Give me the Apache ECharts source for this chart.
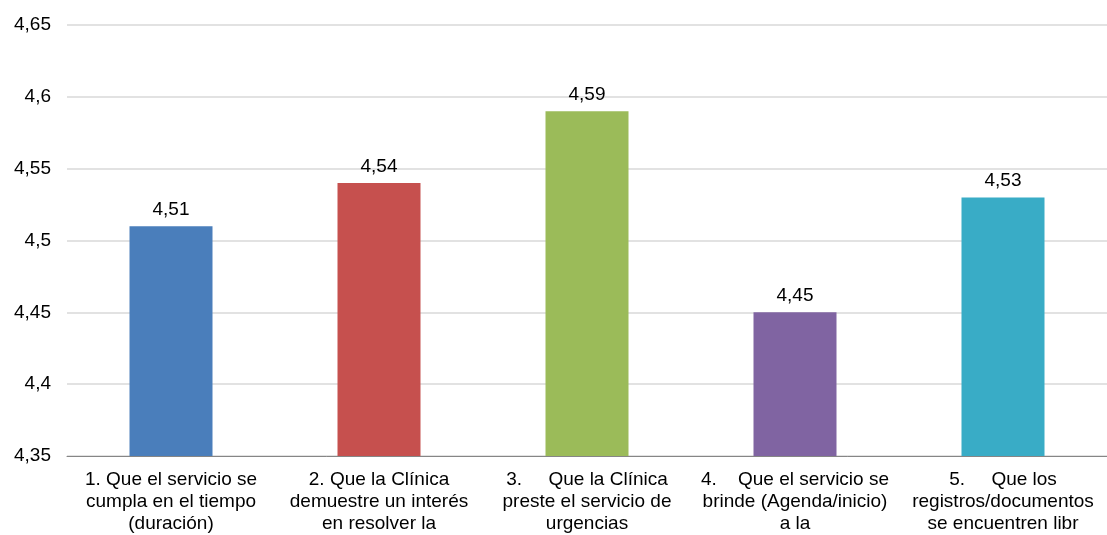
<!DOCTYPE html>
<html>
<head>
<meta charset="utf-8">
<script src="https://cdn.jsdelivr.net/npm/echarts@6/dist/echarts.min.js"></script>
<style>
  html, body { margin: 0; padding: 0; background: #ffffff; }
  #chart { width: 1107px; height: 535px; }
</style>
</head>
<body>
<div id="chart"></div>
<script>
// Survey items (wrapped as they appear under the axis)
const categories = [
  '1. Que el servicio se\ncumpla en el tiempo\n(duración)',
  '2. Que la Clínica\ndemuestre un interés\nen resolver la',
  '3.     Que la Clínica\npreste el servicio de\nurgencias',
  '4.    Que el servicio se\nbrinde (Agenda/inicio)\na la',
  '5.     Que los\nregistros/documentos\nse encuentren libr'
];
// Average score per item
const scores = [4.51, 4.54, 4.59, 4.45, 4.53];
const barColors = ['#4A7EBB', '#C6504E', '#9BBB59', '#8064A2', '#39ACC6'];
// Value axis range
const axisMin = 4.35;
const axisMax = 4.65;
const axisStep = 0.05;

const fmt = v => String(parseFloat(Number(v).toFixed(2))).replace('.', ',');
const font = 'Liberation Sans, Arial, sans-serif';

const chart = echarts.init(document.getElementById('chart'), null, { renderer: 'canvas' });
chart.setOption({
  animation: false,
  backgroundColor: '#ffffff',
  grid: { left: 67, top: 25, width: 1044, height: 432, containLabel: false },
  xAxis: {
    type: 'category',
    data: categories,
    axisTick: { show: false },
    axisLine: { lineStyle: { color: '#868686', width: 1 } },
    axisLabel: {
      interval: 0,
      margin: 13,
      color: '#000000',
      fontFamily: font,
      fontSize: 19,
      lineHeight: 22,
      align: 'center'
    }
  },
  yAxis: {
    type: 'value',
    min: axisMin,
    max: axisMax,
    interval: axisStep,
    axisLine: { show: false },
    axisTick: { show: false },
    splitLine: { lineStyle: { color: '#d9d9d9', width: 1.5 } },
    axisLabel: {
      margin: 16,
      color: '#000000',
      fontFamily: font,
      fontSize: 19,
      formatter: fmt
    }
  },
  series: [{
    type: 'bar',
    data: scores.map((v, i) => ({ value: v, itemStyle: { color: barColors[i] } })),
    barWidth: 83,
    label: {
      show: true,
      position: 'top',
      distance: 7,
      color: '#000000',
      fontFamily: font,
      fontSize: 19,
      formatter: p => fmt(p.value)
    }
  }]
});
</script>
</body>
</html>
